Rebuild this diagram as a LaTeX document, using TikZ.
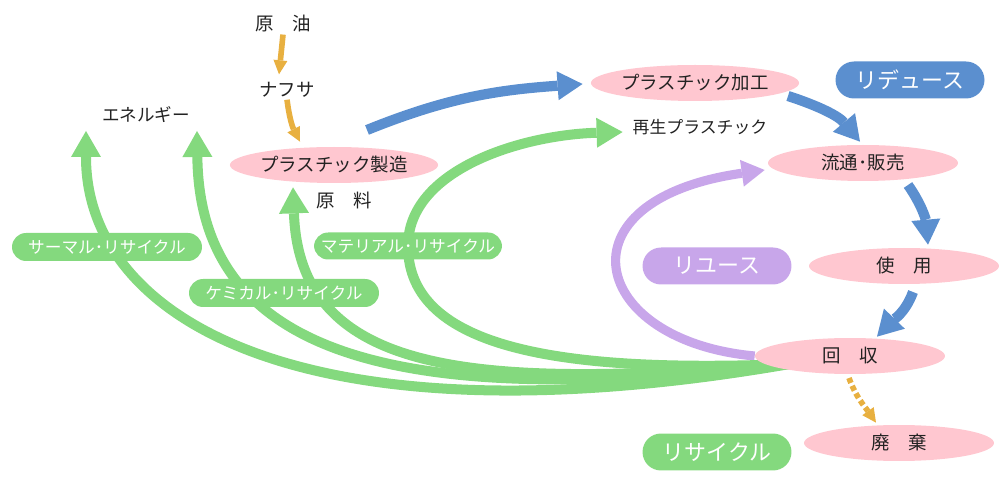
\documentclass[tikz,border=0pt]{standalone}
\usepackage{fontspec}
\setmainfont{Noto Sans CJK JP}
\usetikzlibrary{calc,arrows.meta,shapes.geometric,backgrounds}
\definecolor{stagepink}{RGB}{255,199,208}
\definecolor{reduceblue}{RGB}{91,143,207}
\definecolor{reusepurple}{RGB}{200,166,234}
\definecolor{recyclegreen}{RGB}{132,217,126}
\definecolor{oilorange}{RGB}{232,176,64}
\definecolor{inkgray}{RGB}{34,34,34}

\begin{document}
\begin{tikzpicture}[x=0.02cm,y=0.02cm,
  stagenode/.style={ellipse,fill=stagepink,minimum width=3.8cm,minimum height=0.72cm,
    inner sep=0pt,text=inkgray,font=\fontsize{10.5}{12}\selectfont},
  plaintext/.style={inner sep=1pt,text=inkgray,font=\fontsize{10.5}{12}\selectfont},
  bigpill/.style={rectangle,rounded corners=0.37cm,minimum width=2.98cm,minimum height=0.74cm,
    inner sep=0pt,text=white,font=\fontsize{12.5}{14}\selectfont},
  smallpill/.style={rectangle,rounded corners=0.28cm,minimum width=3.8cm,minimum height=0.56cm,
    inner sep=0pt,fill=recyclegreen,text=white,font=\fontsize{9.5}{11}\selectfont},
  oilarrow/.style={draw=oilorange,line width=3.2pt,
    -{Triangle[width=0.28cm,length=0.28cm,line width=0pt]}},
  disposearrow/.style={oilarrow,dash pattern=on 3pt off 1.8pt},
  reducearrow/.style={draw=reduceblue,line width=5.8pt,
    -{Triangle[width=0.58cm,length=0.5cm,line width=0pt]}},
  reusearrow/.style={draw=reusepurple,line width=5.2pt,
    -{Triangle[width=0.54cm,length=0.46cm,line width=0pt]}},
  recyclearrow/.style={draw=recyclegreen,line width=5.7pt,
    -{Triangle[width=0.6cm,length=0.52cm,line width=0pt]}}]
  \useasboundingbox (0,0) rectangle (1000,500);
  %
  % Raw material
  \node[plaintext] (genyu) at (283,476) {原　油};
  \node[plaintext] (nafusa) at (287,410) {ナフサ};
  \node[plaintext,font=\fontsize{10}{12}\selectfont] (energy) at (146,385) {エネルギー};
  \node[stagenode] (seizo) at (334,335) {プラスチック製造};
  \node[plaintext] (genryo) at (344,300) {原　料};
  %
  % Product cycle
  \node[stagenode] (kakou) at (695,417) {プラスチック加工};
  \node[plaintext,font=\fontsize{9.6}{12}\selectfont] (saisei) at (700,373) {再生プラスチック};
  \node[stagenode] (ryutsu) at (863,337) {流通･販売};
  \node[stagenode] (shiyou) at (904,234) {使　用};
  \node[stagenode] (kaishu) at (850,144) {回　収};
  \node[stagenode] (haiki) at (899,57) {廃　棄};
  %
  % 3R labels
  \node[bigpill,fill=reduceblue] (reduce) at (910,420) {リデュース};
  \node[bigpill,fill=reusepurple] (reuse) at (717,234) {リユース};
  \node[bigpill,fill=recyclegreen] (recycle) at (717,48) {リサイクル};
  \node[smallpill] (thermal) at (107,253) {サーマル･リサイクル};
  \node[smallpill] (chemical) at (284,207) {ケミカル･リサイクル};
  \node[smallpill,minimum width=3.76cm,minimum height=0.54cm] (material) at (408,254) {マテリアル･リサイクル};
  %
  % Oil to production
  \draw[oilarrow] (genyu.south) -- ($(nafusa.north)+(-8,6)$);
  \draw[oilarrow] (nafusa.south) to[bend right=10] ($(seizo.north)+(-34,5)$);
  %
  % Reduce flow
  \draw[reducearrow] ($(seizo)+(33,35)$) to[out=22,in=184] ($(kakou.west)+(-8,-1)$);
  \draw[reducearrow] ($(kakou)+(93,-13)$) to[out=-18,in=130] ($(ryutsu.north)+(-3,3)$);
  \draw[reducearrow] ($(ryutsu)+(45,-22)$) to[out=-55,in=95] ($(shiyou.north)+(24,3)$);
  \draw[reducearrow] ($(shiyou)+(9,-26)$) to[out=-110,in=46] ($(kaishu.north)+(27,1)$);
  %
  % Disposal
  \draw[disposearrow] ($(kaishu)+(-1,-22)$) to[out=-70,in=125] ($(haiki.north)+(-23,2)$);
  %
  % Reuse and recycle loops
  \coordinate (hub) at ($(kaishu.west)+(35,-8)$);
  \begin{scope}[on background layer]
    \draw[reusearrow] (kaishu.west) .. controls +(-165,15) and +(-210,-30)
      .. ($(ryutsu.west)+(-3,-7)$);
    \draw[recyclearrow] (hub) .. controls +(-485,-84) and +(0,-189)
      .. ($(energy)+(-60,-16)$);
    \draw[recyclearrow] (hub) .. controls +(-385,-45) and +(3,-229)
      .. ($(energy)+(51,-16)$);
    \draw[recyclearrow] (hub) .. controls +(-305,-24) and +(7,-193)
      .. ($(seizo.south)+(-41,-4)$);
    \draw[recyclearrow] (hub) .. controls +(-225,-9) and +(0,-104) .. (material.center)
      .. controls +(0,76) and +(-102,-3) .. ($(saisei.west)+(-8,-5)$);
  \end{scope}
  %
\end{tikzpicture}
\end{document}
